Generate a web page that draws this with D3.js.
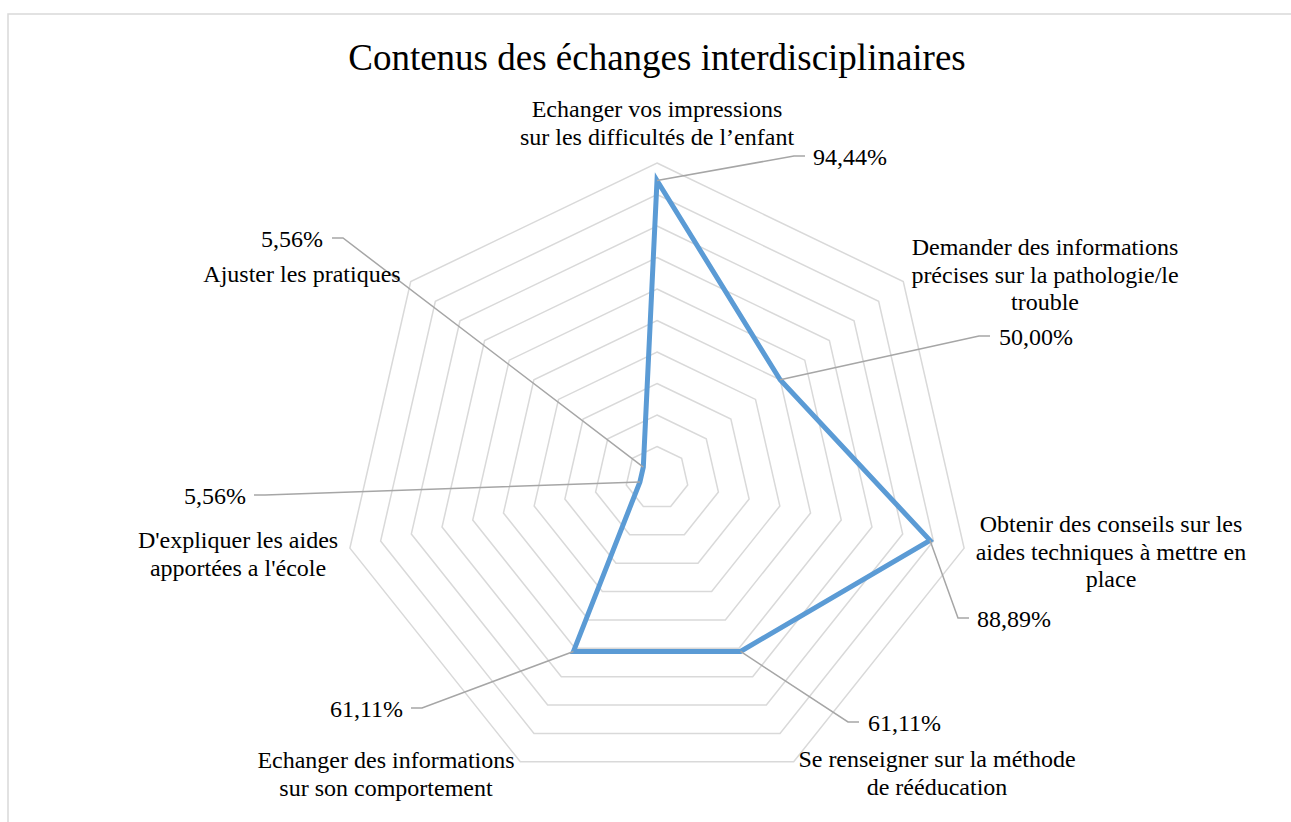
<!DOCTYPE html>
<html>
<head>
<meta charset="utf-8">
<script src="https://cdn.jsdelivr.net/npm/d3@7"></script>
<style>
  body { margin: 0; background: #fff; }
  svg text { font-family: 'Liberation Serif', Tinos, 'Times New Roman', Times, 'DejaVu Serif', serif; fill: #000; }
</style>
</head>
<body>
<div class="container"></div>
<script>
(function(){
  // data
  const categories = [
    ['Echanger vos impressions', 'sur les difficultés de l’enfant'],
    ['Demander des informations', 'précises sur la pathologie/le', 'trouble'],
    ['Obtenir des conseils sur les', 'aides techniques à mettre en', 'place'],
    ['Se renseigner sur la méthode', 'de rééducation'],
    ['Echanger des informations', 'sur son comportement'],
    ["D'expliquer les aides", "apportées a l'école"],
    ['Ajuster les pratiques']
  ];
  const values = [94.44, 50.00, 88.89, 61.11, 61.11, 5.56, 5.56];
  const levels = [10, 20, 30, 40, 50, 60, 70, 80, 90, 100];
  const title = 'Contenus des échanges interdisciplinaires';

  const config = {w: 1291, h: 822, cx: 657, cy: 478, r: 315, fs: 24, lh: 27.5,
    font: "'Liberation Serif', Tinos, 'Times New Roman', Times, 'DejaVu Serif', serif"};

  // label placement (manual, like the original chart)
  const catPos = [
    {x: 657, y: 117}, {x: 1045, y: 255}, {x: 1111, y: 532}, {x: 937, y: 767},
    {x: 386, y: 768}, {x: 238, y: 548}, {x: 302, y: 282}
  ];
  // value labels: text x/baseline, anchor, leader horizontal end x
  const valPos = [
    {x: 813, y: 165, a: 'start', lx: 805},
    {x: 999, y: 345, a: 'start', lx: 990},
    {x: 977, y: 627, a: 'start', lx: 969},
    {x: 868, y: 731, a: 'start', lx: 859},
    {x: 403, y: 717, a: 'end', lx: 411},
    {x: 246, y: 504, a: 'end', lx: 254},
    {x: 323, y: 247, a: 'end', lx: 332}
  ];

  const fmt = v => d3.format('.2f')(v).replace('.', ',') + '%';

  const svg = d3.select('.container').append('svg')
    .attr('width', config.w)
    .attr('height', config.h)
    .attr('font-family', config.font);

  svg.append('rect')
    .attr('x', 8).attr('y', 14)
    .attr('width', config.w + 20).attr('height', config.h + 20)
    .attr('fill', '#fff')
    .attr('stroke', '#d9d9d9')
    .attr('stroke-width', 1.5);

  svg.append('text')
    .attr('x', config.cx)
    .attr('y', 70)
    .attr('text-anchor', 'middle')
    .attr('font-size', 37)
    .text(title);

  const n = categories.length;
  const r = d3.scaleLinear().domain([0, 100]).range([0, config.r]);
  const angle = i => i * 2 * Math.PI / n;

  const g = svg.append('g')
    .attr('transform', `translate(${config.cx},${config.cy})`);

  const radial = d3.lineRadial()
    .angle((d, i) => angle(i))
    .radius(d => r(d))
    .curve(d3.curveLinearClosed);

  g.append('g').attr('class', 'grid')
    .selectAll('path')
    .data(levels)
    .enter().append('path')
      .attr('d', l => radial(d3.range(n).map(() => l)))
      .attr('fill', 'none')
      .attr('stroke', '#d9d9d9')
      .attr('stroke-width', 1.5);

  g.append('path')
    .datum(values)
    .attr('d', radial)
    .attr('fill', 'none')
    .attr('stroke', '#5b9bd5')
    .attr('stroke-width', 5)
    .attr('stroke-linejoin', 'miter');

  const pt = (v, i) => [r(v) * Math.sin(angle(i)) + config.cx, -r(v) * Math.cos(angle(i)) + config.cy];

  // leader lines
  svg.append('g').attr('class', 'leaders')
    .selectAll('polyline')
    .data(values)
    .enter().append('polyline')
      .attr('points', (v, i) => {
        const p = pt(v, i), lp = valPos[i];
        const ly = lp.y - 9;
        const ex = lp.a === 'start' ? lp.lx - 11 : lp.lx + 11;
        return [p, [ex, ly], [lp.lx, ly]].map(d => d.join(',')).join(' ');
      })
      .attr('fill', 'none')
      .attr('stroke', '#a6a6a6')
      .attr('stroke-width', 1.5);

  svg.append('g').attr('class', 'values')
    .selectAll('text')
    .data(values)
    .enter().append('text')
      .attr('x', (v, i) => valPos[i].x)
      .attr('y', (v, i) => valPos[i].y)
      .attr('text-anchor', (v, i) => valPos[i].a)
      .attr('font-size', config.fs)
      .text(fmt);

  const cats = svg.append('g').attr('class', 'categories')
    .selectAll('text')
    .data(categories)
    .enter().append('text')
      .attr('text-anchor', 'middle')
      .attr('font-size', config.fs)
      .attr('transform', (d, i) => `translate(${catPos[i].x},${catPos[i].y})`);

  cats.selectAll('tspan')
    .data(d => d)
    .enter().append('tspan')
      .attr('x', 0)
      .attr('y', (d, i) => i * config.lh)
      .text(d => d);
})();
</script>
</body>
</html>
